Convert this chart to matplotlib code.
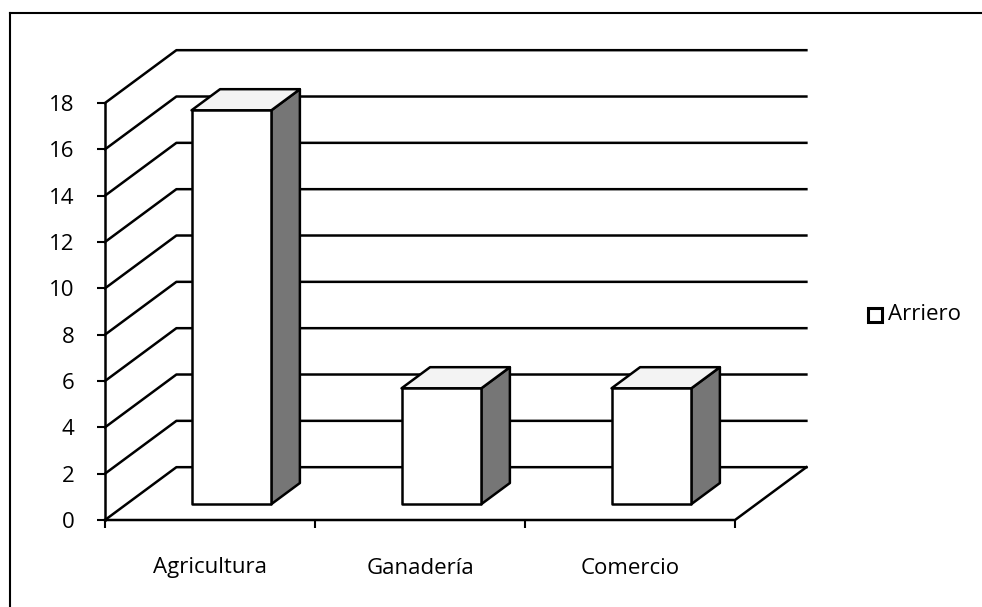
import matplotlib
matplotlib.use('Agg')
import matplotlib.pyplot as plt
from matplotlib.patches import Polygon, Rectangle
from matplotlib.lines import Line2D

plt.rcParams['font.family'] = ['Open Sans', 'DejaVu Sans']

# data
categories = ['Agricultura', 'Ganadería', 'Comercio']
values = [17, 5, 5]
series_name = 'Arriero'
yticks = list(range(0, 20, 2))

# fake 3d geometry (in data units)
depth_dx = 0.34
depth_dy = 2.28
bar_w = 0.38
bar_d0, bar_d1 = 0.30, 0.70
side_col = '#767676'
top_col = '#f3f3f3'

W, H = 982, 607
fig = plt.figure(figsize=(W / 100, H / 100), dpi=100)
ax = fig.add_axes([105 / W, 87 / H, 630 / W, 417 / H])
ax.set_xlim(0, len(categories))
ax.set_ylim(0, 18)
for s in ['top', 'right', 'bottom', 'left']:
    ax.spines[s].set_visible(False)
ax.patch.set_alpha(0)

lw = 1.8
n = len(categories)
# walls / gridlines
for v in yticks:
    ax.add_line(Line2D([0, depth_dx, n + depth_dx], [v, v + depth_dy, v + depth_dy],
                       color='black', lw=lw, clip_on=False, zorder=1))
# floor
ax.add_line(Line2D([0, n, n + depth_dx], [0, 0, depth_dy], color='black', lw=lw,
                   clip_on=False, zorder=2))
# front axis
ax.add_line(Line2D([0, 0], [0, 18], color='black', lw=lw, clip_on=False, zorder=2))

# bars as boxes
for i, v in enumerate(values):
    x0 = i + 0.5 - bar_w / 2 + bar_d0 * depth_dx
    y0 = bar_d0 * depth_dy
    ddx = (bar_d1 - bar_d0) * depth_dx
    ddy = (bar_d1 - bar_d0) * depth_dy
    front = [(x0, y0), (x0 + bar_w, y0), (x0 + bar_w, y0 + v), (x0, y0 + v)]
    side = [(x0 + bar_w, y0), (x0 + bar_w + ddx, y0 + ddy),
            (x0 + bar_w + ddx, y0 + ddy + v), (x0 + bar_w, y0 + v)]
    top = [(x0, y0 + v), (x0 + bar_w, y0 + v), (x0 + bar_w + ddx, y0 + ddy + v),
           (x0 + ddx, y0 + ddy + v)]
    for pts, fc in [(side, side_col), (top, top_col), (front, 'white')]:
        ax.add_patch(Polygon(pts, closed=True, facecolor=fc, edgecolor='black',
                             lw=lw, joinstyle='round', clip_on=False, zorder=3))

ax.set_yticks(yticks)
ax.set_yticklabels([str(t) for t in yticks])
ax.set_xticks(range(n + 1))
ax.set_xticklabels([])
ax.set_xticks([i + 0.5 for i in range(n)], minor=True)
ax.set_xticklabels(categories, minor=True)
ax.tick_params(axis='y', length=6, width=1.5, pad=16, labelsize=16)
ax.tick_params(axis='x', which='major', length=6, width=1.5, direction='out')
ax.tick_params(axis='x', which='minor', length=0, pad=27, labelsize=16)

# legend
fig.add_artist(Rectangle((868 / W, 1 - 322 / H), 14 / W, 14 / H, facecolor='white',
                         edgecolor='black', lw=2.2, transform=fig.transFigure))
fig.text(888 / W, 1 - 315 / H, series_name, fontsize=16, va='center', ha='left')

# scanned border (left and top only)
fig.add_artist(Line2D([10 / W, 10 / W], [0, 1 - 13 / H], color='black', lw=1.5,
                      transform=fig.transFigure))
fig.add_artist(Line2D([10 / W, 1], [1 - 13 / H, 1 - 13 / H], color='black', lw=1.5,
                      transform=fig.transFigure))

fig.savefig('out.png', dpi=100)
